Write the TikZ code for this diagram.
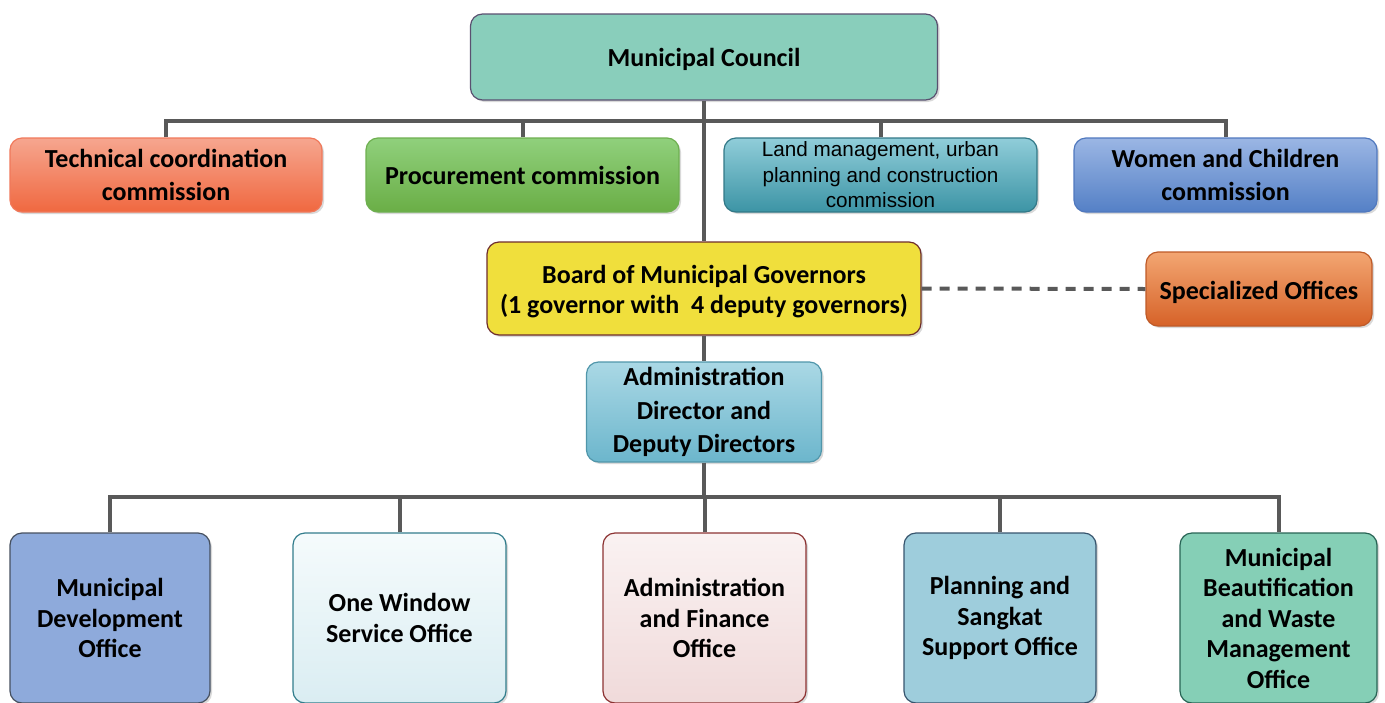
\documentclass[tikz,border=0pt]{standalone}
\usepackage{fontspec}
\setmainfont{Carlito}
\newfontfamily\arialfont{Liberation Sans}
\usetikzlibrary{shadows}
\definecolor{conncol}{HTML}{595959}
\definecolor{mcborder}{HTML}{5A5070}
\newcommand{\lowertext}[2]{\raisebox{-#1}[\height][\depth]{#2}}
\tikzset{
  box/.style={rectangle, rounded corners=12pt, line width=1.2pt, align=center,
    inner sep=2pt, font=\bfseries\fontsize{26}{30.5}\selectfont,
    drop shadow={opacity=0.3, shadow xshift=2pt, shadow yshift=-2pt}},
  conn/.style={draw=conncol, line width=4pt, line join=miter},
}
\begin{document}
\begin{tikzpicture}[x=1pt, y=-1pt]
\useasboundingbox (0,0) rectangle (1385,702);
% top
\node[box, draw=mcborder, fill={rgb,255:red,137;green,206;blue,187}, minimum width=467pt, minimum height=86pt] (mc) at (704,57) {\lowertext{2.5pt}{Municipal Council}};
% commissions
\node[box, draw={rgb,255:red,240;green,120;blue,90}, top color={rgb,255:red,246;green,166;blue,143}, bottom color={rgb,255:red,240;green,104;blue,64}, minimum width=312pt, minimum height=74pt, font=\bfseries\fontsize{26}{33}\selectfont] (tech) at (166,175) {Technical coordination\\commission};
\node[box, draw={rgb,255:red,110;green,175;blue,80}, top color={rgb,255:red,144;green,208;blue,124}, bottom color={rgb,255:red,106;green,174;blue,70}, minimum width=313pt, minimum height=74pt] (proc) at (522.5,175) {Procurement commission};
\node[box, draw={rgb,255:red,50;green,120;blue,135}, top color={rgb,255:red,144;green,205;blue,217}, bottom color={rgb,255:red,60;green,148;blue,165}, minimum width=313pt, minimum height=74pt, font=\arialfont\fontsize{20.7}{25.5}\selectfont] (land) at (880.5,175) {Land management, urban\\planning and construction\\commission};
\node[box, draw={rgb,255:red,80;green,120;blue,190}, top color={rgb,255:red,155;green,182;blue,228}, bottom color={rgb,255:red,84;green,128;blue,198}, minimum width=303pt, minimum height=74pt, font=\bfseries\fontsize{26}{33}\selectfont] (women) at (1225.5,175) {Women and Children\\commission};
% board
\node[box, draw={rgb,255:red,110;green,45;blue,45}, fill={rgb,255:red,240;green,223;blue,60}, minimum width=434pt, minimum height=93pt, font=\bfseries\fontsize{26}{30}\selectfont] (board) at (704,288.5) {\lowertext{4pt}{\begin{tabular}{@{}c@{}}Board of Municipal Governors\\(1 governor with\ \ 4 deputy governors)\end{tabular}}};
\node[box, draw={rgb,255:red,190;green,90;blue,40}, top color={rgb,255:red,243;green,166;blue,114}, bottom color={rgb,255:red,214;green,98;blue,40}, minimum width=226pt, minimum height=74pt] (spec) at (1259,289) {\lowertext{3pt}{Specialized Offices}};
% director
\node[box, draw={rgb,255:red,80;green,150;blue,170}, top color={rgb,255:red,170;green,216;blue,229}, bottom color={rgb,255:red,108;green,182;blue,204}, minimum width=235pt, minimum height=100pt, font=\bfseries\fontsize{26}{33.5}\selectfont] (dir) at (704,412) {Administration\\Director and\\Deputy Directors};
% offices
\node[box, draw={rgb,255:red,70;green,80;blue,95}, fill={rgb,255:red,142;green,170;blue,219}, minimum width=200pt, minimum height=170pt] (mdo) at (110,618) {Municipal\\Development\\Office};
\node[box, draw={rgb,255:red,50;green,125;blue,140}, top color={rgb,255:red,245;green,251;blue,252}, bottom color={rgb,255:red,218;green,237;blue,242}, minimum width=213pt, minimum height=170pt] (owso) at (399.5,618) {One Window\\Service Office};
\node[box, draw={rgb,255:red,140;green,50;blue,50}, top color={rgb,255:red,250;green,242;blue,242}, bottom color={rgb,255:red,240;green,218;blue,218}, minimum width=203pt, minimum height=170pt] (afo) at (704.5,618) {Administration\\and Finance\\Office};
\node[box, draw={rgb,255:red,55;green,85;blue,110}, fill={rgb,255:red,158;green,205;blue,220}, minimum width=192pt, minimum height=170pt] (pso) at (1000,618) {Planning and\\Sangkat\\Support Office};
\node[box, draw={rgb,255:red,40;green,100;blue,85}, fill={rgb,255:red,133;green,207;blue,182}, minimum width=197pt, minimum height=170pt] (mbw) at (1278.5,618) {Municipal\\Beautification\\and Waste\\Management\\Office};
% connectors
\coordinate (bus1) at (704,121);
\coordinate (bus2) at (704,497);
\draw[conn] (mc.south) -- (board.north);
\draw[conn] (tech.north) |- (bus1) -| (women.north);
\draw[conn] (proc.north) -- (proc.north |- bus1);
\draw[conn] (land.north) -- (land.north |- bus1);
\draw[conn] (board.south) -- (dir.north);
\draw[conn] (dir.south) -- (bus2);
\draw[conn] (mdo.north) |- (bus2) -| (mbw.north);
\draw[conn] (owso.north) -- (owso.north |- bus2);
\draw[conn] (afo.north) -- (afo.north |- bus2);
\draw[conn] (pso.north) -- (pso.north |- bus2);
\draw[conn, dash pattern=on 10pt off 8pt] (board.east) -- (spec.west);
\end{tikzpicture}
\end{document}
